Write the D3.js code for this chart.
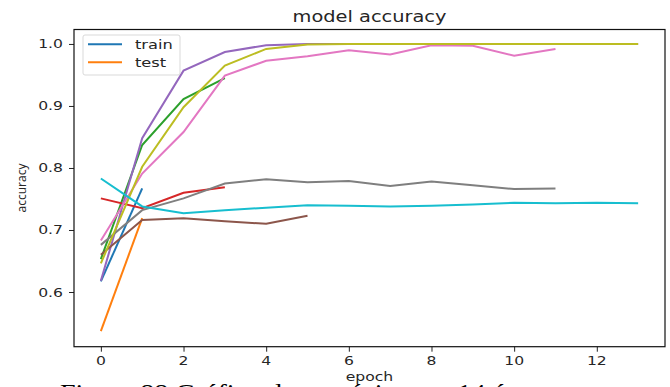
<!DOCTYPE html>
<html>
<head>
<meta charset="utf-8">
<script src="https://cdn.jsdelivr.net/npm/d3@7"></script>
<style>
  body { margin: 0; background: #fff; }
  text { font-family: "DejaVu Sans", sans-serif; fill: #262626; }
</style>
</head>
<body>
<div id="chart"></div>
<script>
// accuracy per epoch, one array per run (matplotlib default colour order)
var blue   = [0.617, 0.767];
var orange = [0.537, 0.719];
var green  = [0.653, 0.837, 0.911, 0.945];
var red    = [0.751, 0.735, 0.760, 0.769];
var purple = [0.618, 0.848, 0.957, 0.987, 0.998, 1.0, 1.0, 1.0, 1.0, 1.0, 1.0, 1.0, 1.0, 1.0];
var brown  = [0.660, 0.716, 0.719, 0.714, 0.710, 0.723];
var pink   = [0.683, 0.791, 0.858, 0.949, 0.973, 0.980, 0.990, 0.983, 0.998, 0.997, 0.981, 0.992];
var gray   = [0.676, 0.732, 0.751, 0.775, 0.782, 0.777, 0.779, 0.771, 0.778, 0.772, 0.766, 0.767];
var olive  = [0.646, 0.802, 0.898, 0.965, 0.992, 0.999, 1.0, 1.0, 1.0, 1.0, 1.0, 1.0, 1.0, 1.0];
var cyan   = [0.783, 0.738, 0.727, 0.732, 0.736, 0.740, 0.739, 0.738, 0.739, 0.741, 0.744, 0.743, 0.744, 0.743];

var series = [blue, orange, green, red, purple, brown, pink, gray, olive, cyan];
var colors = ["#1f77b4", "#ff7f0e", "#2ca02c", "#d62728", "#9467bd",
              "#8c564b", "#e377c2", "#7f7f7f", "#bcbd22", "#17becf"];
var legendLabels = ["train", "test"];
var xTicks = [0, 2, 4, 6, 8, 10, 12];
var yTicks = [0.6, 0.7, 0.8, 0.9, 1.0];

var W = 670, H = 387;
var box = {left: 74, right: 665, top: 29.5, bottom: 346.7};
var sx = 1.3; // the source picture is stretched sideways

var svg = d3.select('#chart').append('svg')
  .attr('width', W)
  .attr('height', H);

var x = d3.scaleLinear().domain([-0.65, 13.65]).range([box.left, box.right]);
var y = d3.scaleLinear().domain([0.5118, 1.0233]).range([box.bottom, box.top]);

// puts a horizontally stretched text at (px, py)
var label = function(px, py, str, size, anchor, scale) {
  return svg.append('text')
    .attr('transform', 'translate(' + px + ',' + py + ') scale(' + scale + ',1)')
    .attr('text-anchor', anchor)
    .style('font-size', size + 'px')
    .text(str);
};

// lines
var line = d3.line()
  .x(function(d, i) { return x(i); })
  .y(function(d) { return y(d); });

series.forEach(function(s, k) {
  svg.append('path')
    .datum(s)
    .attr('d', line)
    .attr('fill', 'none')
    .attr('stroke', colors[k])
    .attr('stroke-width', 2);
});

// axes
var xAxis = svg.append('g')
  .attr('transform', 'translate(0,' + box.bottom + ')')
  .call(d3.axisBottom(x).tickValues(xTicks).tickSize(5).tickFormat(''));
var yAxis = svg.append('g')
  .attr('transform', 'translate(' + box.left + ',0)')
  .call(d3.axisLeft(y).tickValues(yTicks).tickSize(5).tickFormat(''));
[xAxis, yAxis].forEach(function(a) {
  a.select('.domain').remove();
  a.selectAll('line').attr('stroke', '#222');
});

xTicks.forEach(function(t) {
  label(x(t), box.bottom + 18.5, String(t), 12, 'middle', sx);
});
yTicks.forEach(function(t) {
  label(box.left - 11, y(t) + 4.5, t.toFixed(1), 12, 'end', sx);
});

svg.append('rect')
  .attr('x', box.left).attr('y', box.top)
  .attr('width', box.right - box.left).attr('height', box.bottom - box.top)
  .attr('fill', 'none')
  .attr('stroke', '#111')
  .attr('stroke-width', 1.2);

// titles
label((box.left + box.right) / 2, 22, 'model accuracy', 15.5, 'middle', 1.25);
label((box.left + box.right) / 2, 381, 'epoch', 12.5, 'middle', 1.25);
svg.append('text')
  .attr('transform', 'translate(26,188) rotate(-90)')
  .attr('text-anchor', 'middle')
  .style('font-size', '12px')
  .style('font-family', '"Open Sans", sans-serif')
  .text('accuracy');

// legend
var lg = svg.append('g');
lg.append('rect')
  .attr('x', 83).attr('y', 35).attr('width', 97).attr('height', 40)
  .attr('rx', 2)
  .attr('fill', '#fff').attr('fill-opacity', 0.8)
  .attr('stroke', '#d9d9d9');
legendLabels.forEach(function(name, i) {
  var ly = 44.3 + i * 18;
  lg.append('line')
    .attr('x1', 88).attr('x2', 122)
    .attr('y1', ly).attr('y2', ly)
    .attr('stroke', colors[i]).attr('stroke-width', 2);
  label(135, ly + 4.5, name, 12.5, 'start', sx);
});

// figure caption, cut off by the picture edge
svg.append('text')
  .attr('transform', 'translate(60,400) scale(1.17,1)')
  .style('font-family', '"Liberation Serif", serif')
  .style('font-size', '24px')
  .style('fill', '#000')
  .text('Figura 88 Gráfico de acurácia com 14 épocas');
</script>
</body>
</html>
